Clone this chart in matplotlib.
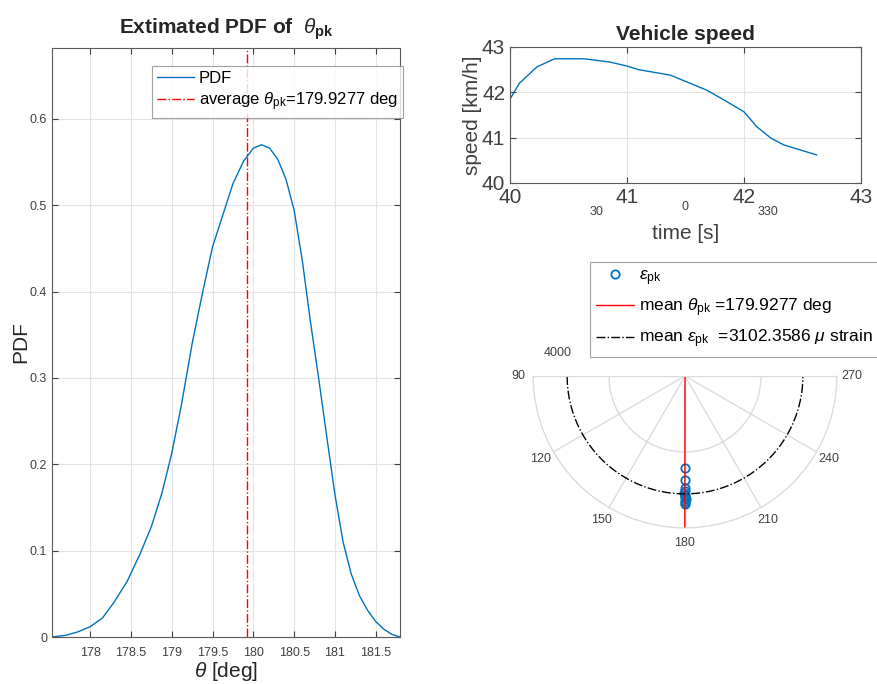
import numpy as np
import matplotlib.pyplot as plt

plt.rcParams['font.family'] = ['Liberation Sans', 'DejaVu Sans']
plt.rcParams['mathtext.fontset'] = 'custom'
plt.rcParams['mathtext.rm'] = 'Liberation Sans'
plt.rcParams['mathtext.it'] = 'Liberation Sans:italic'
plt.rcParams['mathtext.bf'] = 'Liberation Sans:bold'

# estimated PDF of theta_pk
theta_pdf = [177.53, 177.70, 177.85, 178.00, 178.15, 178.29, 178.45, 178.61, 178.75,
             178.88, 179.00, 179.12, 179.25, 179.38, 179.50, 179.62, 179.75, 179.88,
             180.00, 180.10, 180.20, 180.30, 180.40, 180.50, 180.60, 180.70, 180.80,
             180.90, 181.00, 181.10, 181.20, 181.30, 181.40, 181.50, 181.60, 181.70, 181.80]
pdf_vals = [0.000, 0.002, 0.006, 0.012, 0.022, 0.040, 0.064, 0.096, 0.128,
            0.167, 0.213, 0.270, 0.340, 0.400, 0.452, 0.487, 0.525, 0.551,
            0.566, 0.570, 0.566, 0.553, 0.530, 0.494, 0.436, 0.365, 0.300,
            0.232, 0.165, 0.110, 0.073, 0.048, 0.031, 0.018, 0.009, 0.003, 0.000]
theta_mean = 179.9277

# vehicle speed
t_speed = [40.0, 40.08, 40.23, 40.38, 40.63, 40.85, 41.0, 41.1, 41.37, 41.52,
           41.68, 41.83, 42.0, 42.11, 42.23, 42.34, 42.48, 42.62]
speed = [41.85, 42.2, 42.56, 42.74, 42.74, 42.67, 42.58, 42.5, 42.38, 42.22,
         42.05, 41.83, 41.57, 41.24, 40.99, 40.84, 40.73, 40.62]

# peak strain, polar
eps_theta = [180.0, 179.9, 179.8, 180.1, 179.7, 180.2, 179.9, 180.0, 180.3, 179.8, 180.1, 180.2]
eps_r = [2430, 2740, 2950, 3020, 3080, 3120, 3160, 3200, 3240, 3280, 3330, 3370]
eps_mean = 3102.3586

blue = '#0072BD'
grey_txt = '#404040'
W, H = 878, 684

fig = plt.figure(figsize=(8.78, 6.84), dpi=100)

# ---- left: PDF ----
ax1 = fig.add_axes([52 / W, 1 - 637 / H, 348 / W, 589 / H])
ax1.plot(theta_pdf, pdf_vals, color=blue, lw=1, label='PDF')
ax1.axvline(theta_mean, color='r', ls='-.', lw=1,
            label=r'average $\theta_{\rm pk}$=179.9277 deg')
ax1.set_xlim(177.531, 181.798)
ax1.set_ylim(0, 0.682)
ax1.set_xticks([178, 178.5, 179, 179.5, 180, 180.5, 181, 181.5])
ax1.set_xticklabels(['178', '178.5', '179', '179.5', '180', '180.5', '181', '181.5'])
ax1.set_yticks([0, 0.1, 0.2, 0.3, 0.4, 0.5, 0.6])
ax1.set_yticklabels(['0', '0.1', '0.2', '0.3', '0.4', '0.5', '0.6'])
ax1.tick_params(direction='in', top=True, right=True, labelsize=9, colors=grey_txt, length=4)
ax1.tick_params(axis='x', pad=7)
ax1.grid(True, color='#e3e3e3', lw=0.8)
ax1.set_xlabel(r'$\theta$ [deg]', fontsize=15, color='#262626', labelpad=1)
ax1.set_ylabel('PDF', fontsize=15, color='#262626', labelpad=0)
ax1.set_title(r'Extimated PDF of  $\theta_{\mathbf{pk}}$', fontsize=15, fontweight='bold',
              color='#262626', pad=10)
for s in ax1.spines.values():
    s.set_color('#5a5a5a')
leg1 = ax1.legend(loc='upper left', bbox_to_anchor=(100 / 348, 1 - 18 / 589), fontsize=12,
                  frameon=True, fancybox=False, edgecolor='#8a8a8a', borderpad=0.3,
                  handlelength=2.2, handletextpad=0.3, labelspacing=0.25, borderaxespad=0)
leg1.get_frame().set_linewidth(0.8)

# ---- top right: vehicle speed ----
ax2 = fig.add_axes([510 / W, 1 - 183 / H, 351 / W, 136 / H])
ax2.plot(t_speed, speed, color=blue, lw=1)
ax2.set_xlim(40, 43)
ax2.set_ylim(40, 43)
ax2.set_xticks([40, 41, 42, 43])
ax2.set_yticks([40, 41, 42, 43])
ax2.tick_params(direction='in', top=True, right=True, labelsize=15, colors=grey_txt, length=4)
ax2.grid(True, color='#e3e3e3', lw=0.8)
ax2.set_xlabel('time [s]', fontsize=15, color='#404040', labelpad=12)
ax2.set_ylabel('speed [km/h]', fontsize=15, color='#404040', labelpad=0)
ax2.set_title('Vehicle speed', fontsize=15, fontweight='bold', color='#262626', pad=5)
for s in ax2.spines.values():
    s.set_color('#5a5a5a')

# ---- bottom right: polar (half disc, centre at 685,376, radius 152 px) ----
ax3 = fig.add_axes([533 / W, 1 - 604 / H, 304 / W, 304 / H], projection='polar')
ax3.set_theta_zero_location('N')
ax3.set_theta_direction(1)
ax3.set_thetamin(90)
ax3.set_thetamax(270)
ax3.set_rlim(0, 4000)
ax3.set_rticks([2000, 4000])
ax3.set_yticklabels([])
ax3.set_thetagrids([90, 120, 150, 180, 210, 240, 270],
                   ['90', '120', '150', '180', '210', '240', '270'])
ax3.tick_params(axis='x', labelsize=9, colors=grey_txt, pad=0)
ax3.grid(True, color='#dcdcdc', lw=1)
for s in ax3.spines.values():
    s.set_color('#dcdcdc')
ax3.plot(np.deg2rad(eps_theta), eps_r, 'o', mfc='none', mec=blue, ms=6, mew=1.3,
         label=r'$\epsilon_{\rm pk}$')
ax3.plot(np.deg2rad([theta_mean, theta_mean]), [0, 4000], color='r', lw=1,
         label=r'mean $\theta_{\rm pk}$ =179.9277 deg')
circ = np.deg2rad(np.linspace(90, 270, 181))
ax3.plot(circ, np.full_like(circ, eps_mean), 'k-.', lw=1,
         label=r'mean $\epsilon_{\rm pk}$  =3102.3586 $\mu$ strain')
leg3 = fig.legend(*ax3.get_legend_handles_labels(), loc='upper left',
                  bbox_to_anchor=(590 / W, 1 - 262 / H), fontsize=12.5, frameon=True,
                  fancybox=False, edgecolor='#8a8a8a', borderpad=0.35, handlelength=2.2,
                  handletextpad=0.3, labelspacing=0.5, borderaxespad=0)
leg3.get_frame().set_linewidth(0.8)

# stray labels in the original
fig.text(558 / W, 1 - 353 / H, '4000', fontsize=9, color=grey_txt, ha='center', va='center')
fig.text(597 / W, 1 - 212 / H, '30', fontsize=9, color=grey_txt, ha='center', va='center')
fig.text(685 / W, 1 - 207 / H, '0', fontsize=9, color=grey_txt, ha='center', va='center')
fig.text(768 / W, 1 - 212 / H, '330', fontsize=9, color=grey_txt, ha='center', va='center')

fig.savefig('out.png', dpi=100)
